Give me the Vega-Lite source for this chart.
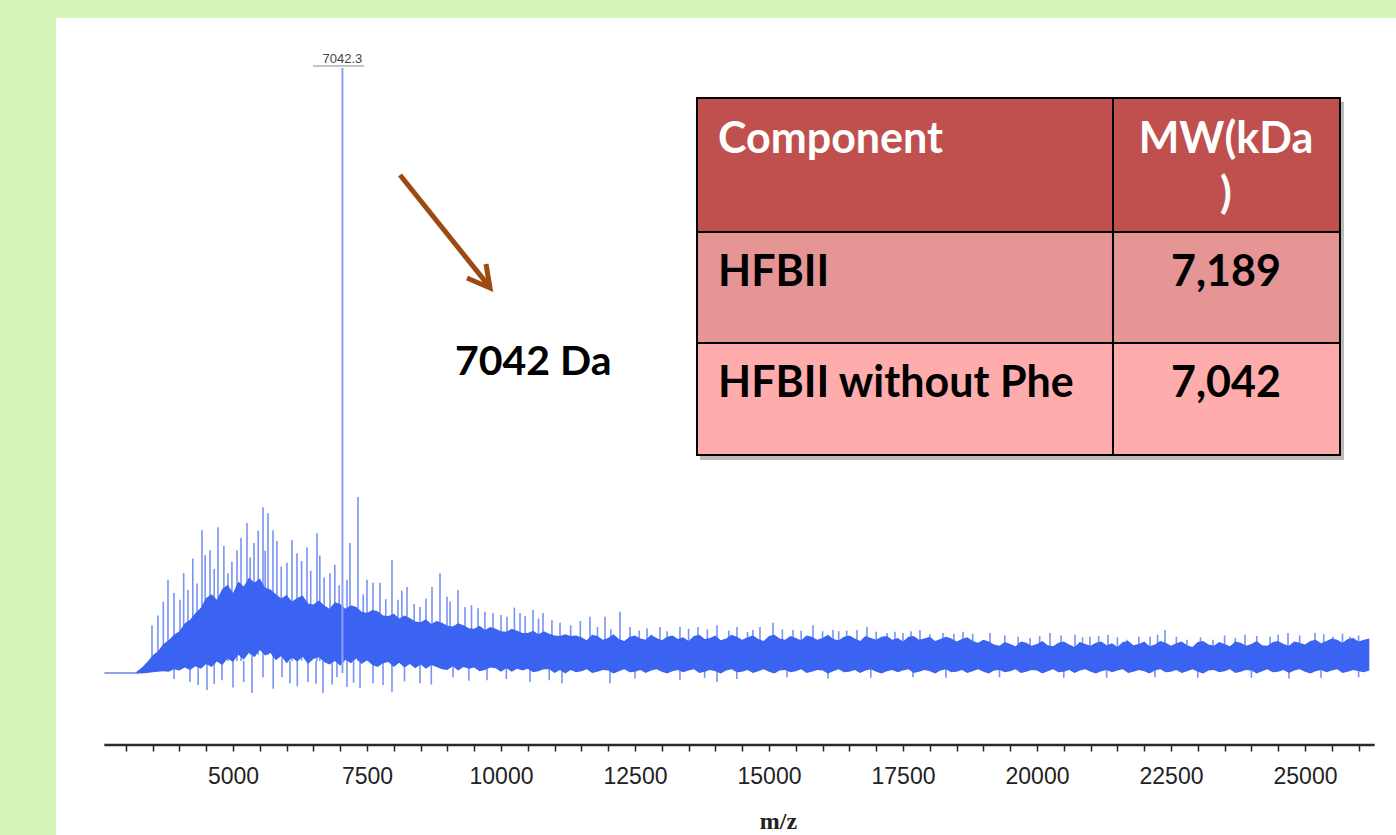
{
  "$schema": "https://vega.github.io/schema/vega-lite/v6.json",
  "width": 1340,
  "height": 817,
  "autosize": {"type": "none"},
  "padding": {"left": 56, "top": 18, "right": 0, "bottom": 0},
  "background": "#d4f5b9",
  "config": {"view": {"fill": "white", "stroke": null}},
  "encoding": {
    "x": {
      "field": "m", "type": "quantitative",
      "scale": {"domain": [1698, 26698], "nice": false, "zero": false},
      "axis": {
        "values": [3000,3500,4000,4500,5000,5500,6000,6500,7000,7500,8000,8500,9000,9500,10000,10500,11000,11500,12000,12500,13000,13500,14000,14500,15000,15500,16000,16500,17000,17500,18000,18500,19000,19500,20000,20500,21000,21500,22000,22500,23000,23500,24000,24500,25000,25500,26000],
        "labelExpr": "datum.value % 2500 === 0 ? format(datum.value, 'd') : ''",
        "offset": -90, "domain": false, "grid": false,
        "tickColor": "#222", "tickWidth": 1.5, "tickSize": 6,
        "labelFont": "Liberation Sans", "labelFontSize": 23, "labelColor": "#222", "labelPadding": 14,
        "labelOverlap": false, "labelFlush": false,
        "title": "m/z", "titleFont": "Liberation Serif", "titleFontSize": 24, "titleFontWeight": "bold", "titleColor": "#222",
        "titleX": 722, "titleY": 83, "titleAlign": "center", "titleBaseline": "alphabetic", "titleAnchor": null
      }
    },
    "y": {
      "field": "v", "type": "quantitative",
      "scale": {"domain": [-26.78, 108.26], "nice": false, "zero": false},
      "axis": null
    }
  },
  "layer": [
    {
      "data": {"values": [{"m": 2600, "m2": 26300, "v": -11.9}]},
      "mark": {"type": "rule", "color": "#2a2a2a", "strokeWidth": 2.5},
      "encoding": {"x2": {"field": "m2"}}
    },
    {
      "data": {"values": [{"m": 2600, "m2": 3250, "v": 0}]},
      "mark": {"type": "rule", "color": "#8ea2ef", "strokeWidth": 2},
      "encoding": {"x2": {"field": "m2"}}
    },
    {
      "data": {"values": [
        {"m":3489,"v":7.9,"v2":1},{"m":3600,"v":9.5,"v2":1},{"m":3700,"v":11.8,"v2":1},{"m":3787,"v":15.4,"v2":1},{"m":3900,"v":13.2,"v2":1},{"m":4011,"v":12.1,"v2":1},{"m":4080,"v":16.5,"v2":1},{"m":4160,"v":13.7,"v2":1},{"m":4250,"v":18.9,"v2":1},{"m":4330,"v":14.8,"v2":1},
        {"m":4422,"v":23.6,"v2":2},{"m":4480,"v":19.5,"v2":2},{"m":4571,"v":20.3,"v2":2},{"m":4650,"v":17.2,"v2":2},{"m":4720,"v":24.1,"v2":2},{"m":4830,"v":21.0,"v2":2},{"m":4907,"v":16.5,"v2":2},{"m":4980,"v":18.4,"v2":2},{"m":5075,"v":20.3,"v2":2},{"m":5150,"v":22.3,"v2":2},
        {"m":5261,"v":24.8,"v2":3},{"m":5320,"v":19.1,"v2":3},{"m":5392,"v":21.5,"v2":3},{"m":5470,"v":23.5,"v2":3},{"m":5560,"v":27.4,"v2":3},{"m":5600,"v":20.2,"v2":3},{"m":5653,"v":26.4,"v2":3},{"m":5746,"v":23.6,"v2":3},{"m":5820,"v":21.8,"v2":3},{"m":5900,"v":17.6,"v2":3},
        {"m":6007,"v":18.2,"v2":2},{"m":6100,"v":22.0,"v2":2},{"m":6194,"v":19.8,"v2":2},{"m":6280,"v":18.5,"v2":2},{"m":6381,"v":20.8,"v2":2},{"m":6450,"v":16.9,"v2":2},{"m":6567,"v":23.1,"v2":2},{"m":6620,"v":19.4,"v2":2},{"m":6700,"v":15.8,"v2":2},{"m":6810,"v":16.5,"v2":2},
        {"m":6900,"v":17.9,"v2":2},{"m":6980,"v":14.5,"v2":2},{"m":7127,"v":15.4,"v2":2},{"m":7183,"v":21.5,"v2":2},{"m":7332,"v":29.1,"v2":2},{"m":7430,"v":13.0,"v2":2},{"m":7500,"v":15.4,"v2":2},{"m":7612,"v":14.9,"v2":2},{"m":7743,"v":14.9,"v2":2},{"m":7850,"v":12.2,"v2":2},
        {"m":7966,"v":18.7,"v2":2},{"m":8078,"v":12.1,"v2":2},{"m":8150,"v":13.6,"v2":2},{"m":8246,"v":14.2,"v2":2},{"m":8380,"v":11.4,"v2":2},{"m":8489,"v":10.9,"v2":2},{"m":8600,"v":12.3,"v2":2},{"m":8713,"v":14.2,"v2":2},{"m":8862,"v":16.5,"v2":2},{"m":8993,"v":12.6,"v2":2},
        {"m":9050,"v":11.8,"v2":2},{"m":9198,"v":13.7,"v2":2},{"m":9328,"v":10.9,"v2":2},{"m":9450,"v":11.2,"v2":2},{"m":9571,"v":10.7,"v2":2},{"m":9700,"v":10.1,"v2":2},{"m":9851,"v":9.9,"v2":2},{"m":10000,"v":9.6,"v2":2},{"m":10112,"v":9.3,"v2":2},{"m":10250,"v":10.8,"v2":2},
        {"m":10355,"v":9.9,"v2":2},{"m":10450,"v":9.4,"v2":2},{"m":10597,"v":10.4,"v2":2},{"m":10700,"v":9.0,"v2":2},{"m":10784,"v":9.9,"v2":2},{"m":10950,"v":8.7,"v2":2},{"m":11101,"v":8.3,"v2":2},{"m":11300,"v":7.9,"v2":2},{"m":11480,"v":8.6,"v2":2},{"m":11660,"v":9.3,"v2":2},
        {"m":11800,"v":7.6,"v2":2},{"m":11940,"v":9.3,"v2":2},{"m":12050,"v":7.2,"v2":2},{"m":12220,"v":10.1,"v2":2},{"m":12407,"v":7.6,"v2":2},{"m":12580,"v":7.0,"v2":2},{"m":12724,"v":7.4,"v2":2},{"m":12966,"v":7.6,"v2":2},{"m":13100,"v":6.9,"v2":2},{"m":13339,"v":7.6,"v2":2},
        {"m":13500,"v":7.3,"v2":2},{"m":13675,"v":7.6,"v2":2},{"m":13850,"v":7.2,"v2":2},{"m":14030,"v":7.9,"v2":2},{"m":14250,"v":7.0,"v2":2},{"m":14403,"v":7.6,"v2":2},{"m":14600,"v":6.8,"v2":2},{"m":14700,"v":7.1,"v2":2},{"m":14832,"v":7.6,"v2":2},{"m":15075,"v":8.3,"v2":2},
        {"m":15250,"v":7.2,"v2":2},{"m":15448,"v":7.1,"v2":2},{"m":15600,"v":7.0,"v2":2},{"m":15821,"v":7.9,"v2":2},{"m":16000,"v":6.9,"v2":2},{"m":16194,"v":7.1,"v2":2},{"m":16300,"v":6.9,"v2":2},{"m":16450,"v":7.0,"v2":2},{"m":16642,"v":7.1,"v2":2},{"m":16829,"v":7.6,"v2":2},
        {"m":17000,"v":6.8,"v2":2},{"m":17202,"v":6.6,"v2":2},{"m":17350,"v":6.8,"v2":2},{"m":17500,"v":6.6,"v2":2},{"m":17650,"v":6.9,"v2":2},{"m":17817,"v":7.1,"v2":2},{"m":18000,"v":6.4,"v2":2},{"m":18246,"v":6.6,"v2":2},{"m":18450,"v":6.5,"v2":2},{"m":18620,"v":6.8,"v2":2},
        {"m":18800,"v":6.5,"v2":2},{"m":19123,"v":6.6,"v2":2},{"m":19400,"v":6.2,"v2":2},{"m":19650,"v":6.0,"v2":2},{"m":19870,"v":5.8,"v2":2},{"m":20050,"v":6.1,"v2":2},{"m":20243,"v":6.6,"v2":2},{"m":20450,"v":6.2,"v2":2},{"m":20709,"v":6.3,"v2":2},{"m":20850,"v":5.9,"v2":2},
        {"m":20989,"v":6.0,"v2":2},{"m":21150,"v":6.1,"v2":2},{"m":21325,"v":6.3,"v2":2},{"m":21500,"v":5.9,"v2":2},{"m":21679,"v":5.5,"v2":2},{"m":21900,"v":6.0,"v2":2},{"m":22108,"v":6.0,"v2":2},{"m":22250,"v":6.3,"v2":2},{"m":22388,"v":7.1,"v2":2},{"m":22600,"v":6.0,"v2":2},
        {"m":22799,"v":5.5,"v2":2},{"m":23050,"v":5.9,"v2":2},{"m":23284,"v":5.5,"v2":2},{"m":23500,"v":6.2,"v2":2},{"m":23700,"v":5.8,"v2":2},{"m":23881,"v":6.3,"v2":2},{"m":24100,"v":6.1,"v2":2},{"m":24347,"v":6.0,"v2":2},{"m":24500,"v":6.3,"v2":2},{"m":24683,"v":6.6,"v2":2},
        {"m":24900,"v":6.2,"v2":2},{"m":25187,"v":6.6,"v2":2},{"m":25350,"v":6.4,"v2":2},{"m":25523,"v":6.0,"v2":2},{"m":25700,"v":6.5,"v2":2},{"m":25840,"v":6.0,"v2":2},{"m":26000,"v":6.2,"v2":2},{"m":26157,"v":5.5,"v2":2},
        {"m":3900,"v":2,"v2":-1.0},{"m":4198,"v":2,"v2":-1.5},{"m":4350,"v":2,"v2":-2.0},{"m":4515,"v":2,"v2":-2.8},{"m":4650,"v":2,"v2":-1.8},{"m":4795,"v":2,"v2":-1.2},{"m":5000,"v":2,"v2":-2.4},{"m":5200,"v":2,"v2":-1.5},{"m":5354,"v":3,"v2":-3.3},{"m":5560,"v":3,"v2":-0.7},
        {"m":5750,"v":3,"v2":-2.6},{"m":5914,"v":3,"v2":-0.7},{"m":6063,"v":2,"v2":-1.7},{"m":6200,"v":2,"v2":-2.2},{"m":6399,"v":2,"v2":-1.5},{"m":6550,"v":2,"v2":-1.8},{"m":6679,"v":2,"v2":-3.3},{"m":6850,"v":2,"v2":-1.9},{"m":6940,"v":2,"v2":-0.7},{"m":7127,"v":2,"v2":-2.3},
        {"m":7250,"v":2,"v2":-1.6},{"m":7370,"v":2,"v2":-2.5},{"m":7612,"v":2,"v2":-1.7},{"m":7800,"v":2,"v2":-2.0},{"m":7966,"v":2,"v2":-3.1},{"m":8200,"v":2,"v2":-1.4},{"m":8489,"v":2,"v2":-1.7},{"m":8700,"v":2,"v2":-1.9},{"m":9105,"v":2,"v2":-0.7},{"m":9400,"v":2,"v2":-1.3},
        {"m":9739,"v":2,"v2":-1.2},{"m":10100,"v":2,"v2":-1.0},{"m":10541,"v":2,"v2":-1.5},{"m":10900,"v":2,"v2":-1.2},{"m":11138,"v":2,"v2":-1.7},{"m":12034,"v":2,"v2":-1.7},{"m":12500,"v":2,"v2":-0.9},{"m":13339,"v":2,"v2":-1.2},{"m":13800,"v":2,"v2":-0.8},{"m":14030,"v":2,"v2":-1.5},
        {"m":14400,"v":2,"v2":-1.0},{"m":15336,"v":2,"v2":-0.7},{"m":16100,"v":2,"v2":-0.9},{"m":16900,"v":2,"v2":-0.8},{"m":17687,"v":2,"v2":-0.7},{"m":18300,"v":2,"v2":-0.8},{"m":19300,"v":2,"v2":-0.7},{"m":20500,"v":2,"v2":-0.8},{"m":21300,"v":2,"v2":-0.8},{"m":22200,"v":2,"v2":-0.7},
        {"m":23000,"v":2,"v2":-0.8},{"m":24000,"v":2,"v2":-0.8},{"m":24700,"v":2,"v2":-0.9},{"m":25300,"v":2,"v2":-0.8},{"m":26000,"v":2,"v2":-0.7}
      ]},
      "mark": {"type": "rule", "color": "#7893f3", "strokeWidth": 1.6},
      "encoding": {"y2": {"field": "v2"}}
    },
    {
      "data": {"values": [
        {"m":3200,"v":0.2,"v2":0},{"m":3300,"v":0.9,"v2":-0.1},{"m":3400,"v":1.8,"v2":0},{"m":3500,"v":2.9,"v2":0.1},{"m":3600,"v":3.6,"v2":0.2},{"m":3700,"v":4.8,"v2":0.3},{"m":3800,"v":5.4,"v2":0.2},{"m":3900,"v":6.3,"v2":0.6},{"m":4000,"v":6.9,"v2":0.4},{"m":4100,"v":8.2,"v2":0.9},
        {"m":4200,"v":8.8,"v2":0.5},{"m":4300,"v":9.9,"v2":1.1},{"m":4400,"v":10.8,"v2":0.7},{"m":4500,"v":12.4,"v2":1.5},{"m":4600,"v":13.0,"v2":1.0},{"m":4700,"v":12.1,"v2":1.9},{"m":4800,"v":13.9,"v2":1.3},{"m":4900,"v":14.6,"v2":2.4},{"m":5000,"v":13.2,"v2":1.8},{"m":5100,"v":15.1,"v2":3.0},
        {"m":5200,"v":14.3,"v2":2.2},{"m":5300,"v":15.8,"v2":3.4},{"m":5400,"v":14.9,"v2":2.6},{"m":5500,"v":15.6,"v2":3.8},{"m":5600,"v":14.1,"v2":2.9},{"m":5700,"v":13.8,"v2":3.3},{"m":5800,"v":13.0,"v2":2.1},{"m":5900,"v":12.3,"v2":2.8},{"m":6000,"v":12.9,"v2":1.6},{"m":6100,"v":11.8,"v2":2.5},
        {"m":6200,"v":12.4,"v2":1.9},{"m":6300,"v":12.8,"v2":2.7},{"m":6400,"v":11.5,"v2":1.5},{"m":6500,"v":11.3,"v2":2.3},{"m":6600,"v":12.0,"v2":2.6},{"m":6700,"v":11.2,"v2":1.8},{"m":6800,"v":10.6,"v2":1.4},{"m":6900,"v":11.7,"v2":2.0},{"m":7000,"v":11.4,"v2":1.2},{"m":7100,"v":10.6,"v2":2.2},
        {"m":7200,"v":11.2,"v2":1.6},{"m":7300,"v":10.9,"v2":2.4},{"m":7400,"v":10.1,"v2":1.5},{"m":7500,"v":9.9,"v2":2.1},{"m":7600,"v":10.4,"v2":1.3},{"m":7700,"v":10.2,"v2":1.0},{"m":7800,"v":9.5,"v2":1.6},{"m":7900,"v":9.4,"v2":1.8},{"m":8000,"v":9.8,"v2":1.0},{"m":8100,"v":9.0,"v2":1.7},
        {"m":8200,"v":9.5,"v2":0.9},{"m":8300,"v":9.1,"v2":1.5},{"m":8400,"v":8.5,"v2":0.8},{"m":8500,"v":8.4,"v2":1.4},{"m":8600,"v":8.9,"v2":0.7},{"m":8700,"v":8.1,"v2":1.3},{"m":8800,"v":8.6,"v2":1.0},{"m":8900,"v":8.3,"v2":0.6},{"m":9000,"v":7.8,"v2":0.5},{"m":9100,"v":7.7,"v2":1.1},
        {"m":9200,"v":8.2,"v2":0.4},{"m":9300,"v":7.9,"v2":1.0},{"m":9400,"v":7.4,"v2":0.7},{"m":9500,"v":7.3,"v2":0.9},{"m":9600,"v":7.8,"v2":0.3},{"m":9700,"v":7.1,"v2":0.5},{"m":9800,"v":7.6,"v2":0.9},{"m":9900,"v":7.3,"v2":0.8},{"m":10000,"v":6.9,"v2":0.2},{"m":10100,"v":6.8,"v2":0.8},
        {"m":10200,"v":7.3,"v2":0.2},{"m":10300,"v":7.0,"v2":0.7},{"m":10400,"v":6.6,"v2":0.4},{"m":10500,"v":6.6,"v2":0.7},{"m":10600,"v":7.0,"v2":0.1},{"m":10700,"v":6.4,"v2":0.3},{"m":10800,"v":6.9,"v2":0.6},{"m":10900,"v":6.5,"v2":0.6},{"m":11000,"v":6.2,"v2":0.0},{"m":11100,"v":6.1,"v2":0.5},
        {"m":11200,"v":6.4,"v2":-0.1},{"m":11300,"v":6.1,"v2":0.5},{"m":11400,"v":6.2,"v2":0.1},{"m":11500,"v":5.9,"v2":0.3},{"m":11600,"v":5.4,"v2":0.6},{"m":11700,"v":6.3,"v2":0.0},{"m":11800,"v":6.1,"v2":0.2},{"m":11900,"v":5.5,"v2":0.5},{"m":12000,"v":5.8,"v2":0.4},{"m":12100,"v":6.4,"v2":-0.1},
        {"m":12200,"v":5.6,"v2":0.3},{"m":12300,"v":5.3,"v2":0.6},{"m":12400,"v":6.0,"v2":0.1},{"m":12500,"v":6.2,"v2":0.2},{"m":12600,"v":5.7,"v2":0.5},{"m":12700,"v":5.5,"v2":0.0},{"m":12800,"v":6.3,"v2":0.4},{"m":12900,"v":5.8,"v2":0.6},{"m":13000,"v":5.4,"v2":0.2},{"m":13100,"v":6.0,"v2":-0.1},
        {"m":13200,"v":6.2,"v2":0.3},{"m":13300,"v":5.6,"v2":0.5},{"m":13400,"v":5.9,"v2":0.1},{"m":13500,"v":5.3,"v2":0.4},{"m":13600,"v":6.1,"v2":0.6},{"m":13700,"v":6.3,"v2":0.0},{"m":13800,"v":5.6,"v2":0.2},{"m":13900,"v":5.8,"v2":0.5},{"m":14000,"v":6.2,"v2":0.3},{"m":14100,"v":5.4,"v2":-0.1},
        {"m":14200,"v":5.7,"v2":0.4},{"m":14300,"v":6.3,"v2":0.6},{"m":14400,"v":6.0,"v2":0.1},{"m":14500,"v":5.5,"v2":0.2},{"m":14600,"v":5.9,"v2":0.5},{"m":14700,"v":6.2,"v2":0.0},{"m":14800,"v":5.6,"v2":0.3},{"m":14900,"v":5.3,"v2":0.6},{"m":15000,"v":6.1,"v2":0.2},{"m":15100,"v":6.3,"v2":-0.1},
        {"m":15200,"v":5.7,"v2":0.4},{"m":15300,"v":5.5,"v2":0.5},{"m":15400,"v":6.1,"v2":0.1},{"m":15500,"v":5.8,"v2":0.3},{"m":15600,"v":5.4,"v2":0.6},{"m":15700,"v":6.2,"v2":0.0},{"m":15800,"v":6.0,"v2":0.2},{"m":15900,"v":5.5,"v2":0.5},{"m":16000,"v":5.8,"v2":0.4},{"m":16100,"v":6.3,"v2":-0.1},
        {"m":16200,"v":5.6,"v2":0.3},{"m":16300,"v":5.4,"v2":0.6},{"m":16400,"v":6.0,"v2":0.1},{"m":16500,"v":6.2,"v2":0.2},{"m":16600,"v":5.7,"v2":0.5},{"m":16700,"v":5.3,"v2":0.0},{"m":16800,"v":6.1,"v2":0.4},{"m":16900,"v":5.8,"v2":0.6},{"m":17000,"v":5.5,"v2":0.2},{"m":17100,"v":6.0,"v2":-0.1},
        {"m":17200,"v":6.1,"v2":0.3},{"m":17300,"v":5.5,"v2":0.5},{"m":17400,"v":5.8,"v2":0.1},{"m":17500,"v":5.2,"v2":0.4},{"m":17600,"v":6.0,"v2":0.6},{"m":17700,"v":6.1,"v2":0.0},{"m":17800,"v":5.5,"v2":0.2},{"m":17900,"v":5.7,"v2":0.5},{"m":18000,"v":6.0,"v2":0.3},{"m":18100,"v":5.3,"v2":-0.1},
        {"m":18200,"v":5.6,"v2":0.4},{"m":18300,"v":6.0,"v2":0.6},{"m":18400,"v":5.7,"v2":0.1},{"m":18500,"v":5.2,"v2":0.2},{"m":18600,"v":5.6,"v2":0.5},{"m":18700,"v":5.9,"v2":0.0},{"m":18800,"v":5.3,"v2":0.3},{"m":18900,"v":5.0,"v2":0.6},{"m":19000,"v":5.5,"v2":0.2},{"m":19100,"v":5.2,"v2":-0.1},
        {"m":19200,"v":4.7,"v2":0.4},{"m":19300,"v":4.5,"v2":0.5},{"m":19400,"v":5.1,"v2":0.1},{"m":19500,"v":4.8,"v2":0.3},{"m":19600,"v":4.4,"v2":0.6},{"m":19700,"v":5.2,"v2":0.0},{"m":19800,"v":5.0,"v2":0.2},{"m":19900,"v":4.5,"v2":0.5},{"m":20000,"v":4.8,"v2":0.4},{"m":20100,"v":5.3,"v2":-0.1},
        {"m":20200,"v":4.6,"v2":0.3},{"m":20300,"v":4.4,"v2":0.6},{"m":20400,"v":5.0,"v2":0.1},{"m":20500,"v":5.2,"v2":0.2},{"m":20600,"v":4.7,"v2":0.5},{"m":20700,"v":4.3,"v2":0.0},{"m":20800,"v":5.1,"v2":0.4},{"m":20900,"v":4.8,"v2":0.6},{"m":21000,"v":4.5,"v2":0.2},{"m":21100,"v":5.0,"v2":-0.1},
        {"m":21200,"v":5.2,"v2":0.3},{"m":21300,"v":4.6,"v2":0.5},{"m":21400,"v":4.9,"v2":0.1},{"m":21500,"v":4.3,"v2":0.4},{"m":21600,"v":5.1,"v2":0.6},{"m":21700,"v":5.3,"v2":0.0},{"m":21800,"v":4.6,"v2":0.2},{"m":21900,"v":4.8,"v2":0.5},{"m":22000,"v":5.2,"v2":0.3},{"m":22100,"v":4.4,"v2":-0.1},
        {"m":22200,"v":4.7,"v2":0.4},{"m":22300,"v":5.3,"v2":0.6},{"m":22400,"v":5.0,"v2":0.1},{"m":22500,"v":4.5,"v2":0.2},{"m":22600,"v":4.9,"v2":0.5},{"m":22700,"v":5.2,"v2":0.0},{"m":22800,"v":4.6,"v2":0.3},{"m":22900,"v":4.3,"v2":0.6},{"m":23000,"v":5.1,"v2":0.2},{"m":23100,"v":5.3,"v2":-0.1},
        {"m":23200,"v":4.7,"v2":0.4},{"m":23300,"v":4.5,"v2":0.5},{"m":23400,"v":5.1,"v2":0.1},{"m":23500,"v":4.8,"v2":0.3},{"m":23600,"v":4.4,"v2":0.6},{"m":23700,"v":5.2,"v2":0.0},{"m":23800,"v":5.0,"v2":0.2},{"m":23900,"v":4.5,"v2":0.5},{"m":24000,"v":4.8,"v2":0.4},{"m":24100,"v":5.3,"v2":-0.1},
        {"m":24200,"v":4.6,"v2":0.3},{"m":24300,"v":4.5,"v2":0.6},{"m":24400,"v":5.1,"v2":0.1},{"m":24500,"v":5.3,"v2":0.2},{"m":24600,"v":4.8,"v2":0.5},{"m":24700,"v":4.5,"v2":0.0},{"m":24800,"v":5.2,"v2":0.4},{"m":24900,"v":5.0,"v2":0.6},{"m":25000,"v":4.7,"v2":0.2},{"m":25100,"v":5.3,"v2":-0.1},
        {"m":25200,"v":5.5,"v2":0.3},{"m":25300,"v":4.9,"v2":0.5},{"m":25400,"v":5.3,"v2":0.1},{"m":25500,"v":5.7,"v2":0.4},{"m":25600,"v":5.5,"v2":0.6},{"m":25700,"v":5.0,"v2":0.0},{"m":25800,"v":5.6,"v2":0.2},{"m":25900,"v":5.8,"v2":0.5},{"m":26000,"v":5.2,"v2":0.3},{"m":26100,"v":5.5,"v2":0.1},
        {"m":26200,"v":5.7,"v2":0.4}
      ]},
      "mark": {"type": "area", "color": "#3b63f1", "interpolate": "linear"},
      "encoding": {"y2": {"field": "v2"}}
    },
    {
      "data": {"values": [{"m": 7042, "v": 100, "v2": 0}]},
      "mark": {"type": "rule", "color": "#8aa2f6", "strokeWidth": 2},
      "encoding": {"y2": {"field": "v2"}}
    },
    {
      "data": {"values": [{"m": 7042, "v": 101.5, "t": "7042.3"}]},
      "mark": {"type": "text", "font": "Liberation Sans", "fontSize": 13, "color": "#444", "align": "center", "baseline": "middle"},
      "encoding": {"text": {"field": "t"}}
    },
    {
      "data": {"values": [{"m": 6493, "m2": 7444, "v": 100.33}]},
      "mark": {"type": "rule", "color": "#888", "strokeWidth": 1},
      "encoding": {"x2": {"field": "m2"}}
    },
    {
      "data": {"values": [
        {"seg": "shaft", "o": 1, "m": 8116, "v": 82.31},
        {"seg": "shaft", "o": 2, "m": 9780, "v": 63.9},
        {"seg": "head", "o": 1, "m": 9366, "v": 65.29},
        {"seg": "head", "o": 2, "m": 9795, "v": 63.64},
        {"seg": "head", "o": 3, "m": 9720, "v": 67.6}
      ]},
      "mark": {"type": "line", "color": "#9c4a14", "strokeWidth": 5, "strokeJoin": "miter", "strokeCap": "butt"},
      "encoding": {"detail": {"field": "seg"}, "order": {"field": "o"}}
    },
    {
      "data": {"values": [{"m": 9142, "v": 49.26, "t": "7042 Da"}]},
      "mark": {"type": "text", "font": "Lato", "fontWeight": "bold", "fontSize": 41, "color": "#000", "align": "left", "baseline": "alphabetic"},
      "encoding": {"text": {"field": "t"}}
    },
    {
      "data": {"values": [{"m": 13713, "m2": 25728, "v": 94.4, "v2": 35.2}]},
      "mark": {"type": "rect", "color": "#666", "opacity": 0.45},
      "encoding": {"x2": {"field": "m2"}, "y2": {"field": "v2"}}
    },
    {
      "data": {"values": [
        {"m": 13657, "m2": 21418, "v": 95.04, "v2": 72.89, "row": "header"},
        {"m": 21418, "m2": 25653, "v": 95.04, "v2": 72.89, "row": "header"},
        {"m": 13657, "m2": 21418, "v": 72.89, "v2": 54.55, "row": "HFBII"},
        {"m": 21418, "m2": 25653, "v": 72.89, "v2": 54.55, "row": "HFBII"},
        {"m": 13657, "m2": 21418, "v": 54.55, "v2": 36.03, "row": "HFBII without Phe"},
        {"m": 21418, "m2": 25653, "v": 54.55, "v2": 36.03, "row": "HFBII without Phe"}
      ]},
      "mark": {"type": "rect", "stroke": "#000", "strokeWidth": 2, "opacity": 1},
      "encoding": {
        "x2": {"field": "m2"}, "y2": {"field": "v2"},
        "fill": {"field": "row", "type": "nominal", "legend": null,
          "scale": {"domain": ["header", "HFBII", "HFBII without Phe"], "range": ["#c0504d", "#e49594", "#feadac"]}}
      }
    },
    {
      "data": {"values": [{"m": 14049, "v": 85.95, "t": "Component"}]},
      "mark": {"type": "text", "font": "Lato", "fontWeight": "bold", "fontSize": 43, "color": "#ffffff", "align": "left", "baseline": "alphabetic"},
      "encoding": {"text": {"field": "t"}}
    },
    {
      "data": {"values": [{"m": 23526, "v": 85.95, "t": "MW(kDa"}, {"m": 23526, "v": 76.86, "t": ")"}]},
      "mark": {"type": "text", "font": "Lato", "fontWeight": "bold", "fontSize": 43, "color": "#ffffff", "align": "center", "baseline": "alphabetic"},
      "encoding": {"text": {"field": "t"}}
    },
    {
      "data": {"values": [{"m": 14049, "v": 63.97, "t": "HFBII"}, {"m": 14049, "v": 45.62, "t": "HFBII without Phe"}]},
      "mark": {"type": "text", "font": "Lato", "fontWeight": "bold", "fontSize": 43, "color": "#000", "align": "left", "baseline": "alphabetic"},
      "encoding": {"text": {"field": "t"}}
    },
    {
      "data": {"values": [{"m": 23526, "v": 63.97, "t": "7,189"}, {"m": 23526, "v": 45.62, "t": "7,042"}]},
      "mark": {"type": "text", "font": "Lato", "fontWeight": "bold", "fontSize": 43, "color": "#000", "align": "center", "baseline": "alphabetic"},
      "encoding": {"text": {"field": "t"}}
    }
  ]
}
